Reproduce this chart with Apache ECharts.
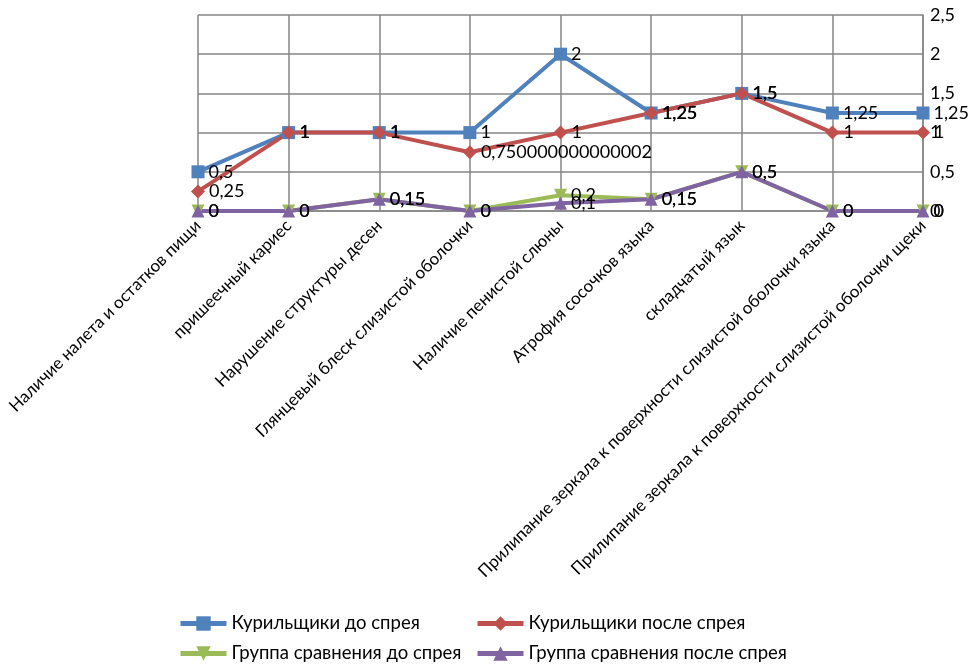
<!DOCTYPE html>
<html>
<head>
<meta charset="utf-8">
<script src="https://cdn.jsdelivr.net/npm/echarts@6/dist/echarts.min.js"></script>
<style>
  html, body { margin: 0; padding: 0; background: #fff; }
  #chart { width: 971px; height: 665px; }
</style>
</head>
<body>
<div id="chart"></div>
<script>
// Признаки состояния полости рта
const categories = [
  'Наличие налета и остатков пищи',
  'пришеечный кариес',
  'Нарушение структуры десен',
  'Глянцевый блеск слизистой оболочки',
  'Наличие пенистой слюны',
  'Атрофия сосочков языка',
  'складчатый язык',
  'Прилипание зеркала к поверхности слизистой оболочки языка',
  'Прилипание зеркала к поверхности слизистой оболочки щеки'
];

const smokersBefore = [0.5, 1, 1, 1, 2, 1.25, 1.5, 1.25, 1.25];
const smokersAfter = [0.25, 1, 1, 0.750000000000002, 1, 1.25, 1.5, 1, 1];
const controlBefore = [0, 0, 0.15, 0, 0.2, 0.15, 0.5, 0, 0];
const controlAfter = [0, 0, 0.15, 0, 0.1, 0.15, 0.5, 0, 0];

const yTicks = [0, 0.5, 1, 1.5, 2, 2.5];

const FONT = 'Lato, "Open Sans", sans-serif';
const comma = v => String(v).replace('.', ',');

function makeSeries(name, data, color, symbol, size) {
  return {
    name: name,
    type: 'line',
    data: data,
    symbol: symbol,
    symbolSize: size,
    lineStyle: { color: color, width: 4 },
    itemStyle: { color: color },
    label: {
      show: true,
      position: 'right',
      distance: 4,
      color: '#000',
      fontFamily: FONT,
      fontSize: 18,
      formatter: p => comma(p.value)
    },
    emphasis: { disabled: true },
    animation: false
  };
}

const legendBase = {
  orient: 'vertical',
  top: 614,
  height: 50,
  padding: 0,
  itemGap: 11,
  itemWidth: 46,
  itemHeight: 18,
  lineStyle: { width: 5 },
  textStyle: { fontFamily: FONT, fontSize: 18.5, color: '#000' }
};

const chart = echarts.init(document.getElementById('chart'));
chart.setOption({
  backgroundColor: '#fff',
  animation: false,
  grid: { left: 198, right: 48, top: 15, bottom: 454, containLabel: false },
  legend: [
    Object.assign({}, legendBase, {
      left: 178,
      data: ['Курильщики до спрея', 'Группа сравнения до спрея']
    }),
    Object.assign({}, legendBase, {
      left: 475,
      data: ['Курильщики после спрея', 'Группа сравнения после спрея']
    })
  ],
  xAxis: {
    type: 'category',
    data: categories,
    boundaryGap: false,
    axisLine: { show: true, lineStyle: { color: '#868686', width: 1.5 } },
    axisTick: { show: false },
    splitLine: { show: true, lineStyle: { color: '#868686', width: 1.5 } },
    axisLabel: {
      interval: 0,
      rotate: 45,
      margin: 12,
      fontFamily: FONT,
      fontSize: 17,
      color: '#000'
    }
  },
  yAxis: {
    type: 'value',
    position: 'right',
    min: yTicks[0],
    max: yTicks[yTicks.length - 1],
    interval: 0.5,
    axisLine: { show: true, lineStyle: { color: '#868686', width: 1.5 } },
    axisTick: { show: false },
    splitLine: { show: true, lineStyle: { color: '#868686', width: 1.5 } },
    axisLabel: {
      margin: 7,
      fontFamily: FONT,
      fontSize: 18,
      color: '#000',
      formatter: v => comma(v)
    }
  },
  series: [
    makeSeries('Курильщики до спрея', smokersBefore, '#4F81BD', 'rect', 13),
    makeSeries('Курильщики после спрея', smokersAfter, '#C0504D', 'diamond', 14),
    makeSeries('Группа сравнения до спрея', controlBefore, '#9BBB59', 'path://M0,0 L10,0 L5,10 Z', 13),
    makeSeries('Группа сравнения после спрея', controlAfter, '#8064A2', 'triangle', 13)
  ]
});
</script>
</body>
</html>
